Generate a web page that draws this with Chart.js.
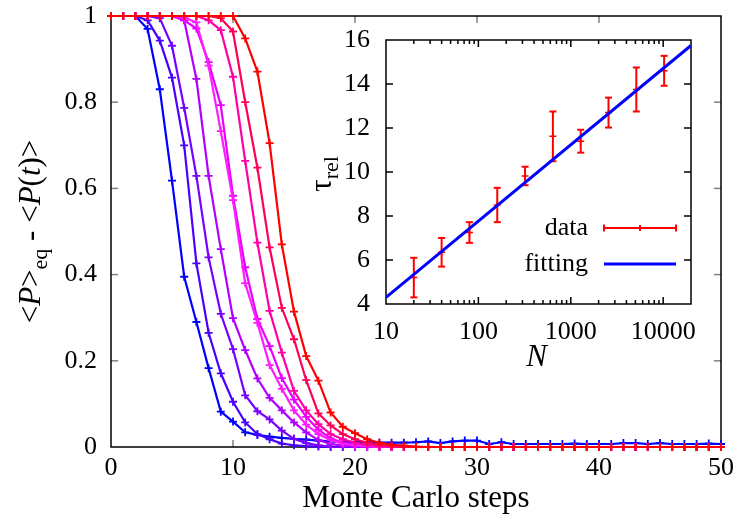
<!DOCTYPE html>
<html>
<head>
<meta charset="utf-8">
<script src="https://cdn.jsdelivr.net/npm/chart.js@4.4.0/dist/chart.umd.min.js"></script>
<style>
html, body { margin: 0; padding: 0; background: #fff; }
#wrap { position: relative; width: 737px; height: 515px; }
#wrap canvas { position: absolute; left: 0; top: 0; }
</style>
</head>
<body>
<div id="wrap">
  <canvas id="main" width="737" height="515"></canvas>
  <canvas id="inset" width="737" height="515"></canvas>
</div>
<script>
// ── Main panel data: relaxation curves vs Monte Carlo steps ─────────
const steps = [
  0, 1, 2, 3, 4, 5, 6, 7, 8, 9,
  10, 11, 12, 13, 14, 15, 16, 17, 18, 19,
  20, 21, 22, 23, 24, 25, 26, 27, 28, 29,
  30, 31, 32, 33, 34, 35, 36, 37, 38, 39,
  40, 41, 42, 43, 44, 45, 46, 47, 48, 49,
  50
];

const curve1 = [
  1, 1, 1, 0.97, 0.83, 0.618, 0.395, 0.29, 0.183, 0.082,
  0.059, 0.034, 0.028, 0.024, 0.021, 0.019, 0.017, 0.015, 0.013, 0.012,
  0.012, 0.011, 0.010, 0.010, 0.010, 0.011, 0.013, 0.009, 0.013, 0.015,
  0.015, 0.007, 0.011, 0.007, 0.007, 0.007, 0.007, 0.007, 0.008, 0.007,
  0.007, 0.007, 0.009, 0.009, 0.007, 0.009, 0.007, 0.007, 0.007, 0.008,
  0.007
];
const curve2 = [
  1, 1, 1, 0.99, 0.943, 0.857, 0.70, 0.426, 0.265, 0.171,
  0.105, 0.057, 0.03, 0.018, 0.008, 0.004, 0.002, 0.001, 0, 0,
  0, 0, 0, 0, 0, 0, 0, 0, 0, 0,
  0, 0, 0, 0, 0, 0, 0, 0, 0, 0,
  0, 0, 0, 0, 0, 0, 0, 0, 0, 0,
  0
];
const curve3 = [
  1, 1, 1, 1, 0.995, 0.931, 0.787, 0.629, 0.44, 0.309,
  0.227, 0.12, 0.083, 0.064, 0.038, 0.019, 0.009, 0.004, 0.001, 0,
  0, 0, 0, 0, 0, 0, 0, 0, 0, 0,
  0, 0, 0, 0, 0, 0, 0, 0, 0, 0,
  0, 0, 0, 0, 0, 0, 0, 0, 0, 0,
  0
];
const curve4 = [
  1, 1, 1, 1, 1, 1, 0.99, 0.854, 0.629, 0.459,
  0.299, 0.225, 0.159, 0.114, 0.085, 0.057, 0.034, 0.016, 0.007, 0.003,
  0.001, 0, 0, 0, 0, 0, 0, 0, 0, 0,
  0, 0, 0, 0, 0, 0, 0, 0, 0, 0,
  0, 0, 0, 0, 0, 0, 0, 0, 0, 0,
  0
];
const curve5 = [
  1, 1, 1, 1, 1, 1, 0.99, 0.971, 0.893, 0.793,
  0.583, 0.417, 0.297, 0.234, 0.16, 0.11, 0.07, 0.04, 0.02, 0.01,
  0.005, 0.002, 0, 0, 0, 0, 0, 0, 0, 0,
  0, 0, 0, 0, 0, 0, 0, 0, 0, 0,
  0, 0, 0, 0, 0, 0, 0, 0, 0, 0,
  0
];
const curve6 = [
  1, 1, 1, 1, 1, 1, 0.997, 0.985, 0.885, 0.733,
  0.573, 0.38, 0.288, 0.19, 0.135, 0.085, 0.052, 0.03, 0.016, 0.008,
  0.004, 0.002, 0, 0, 0, 0, 0, 0, 0, 0,
  0, 0, 0, 0, 0, 0, 0, 0, 0, 0,
  0, 0, 0, 0, 0, 0, 0, 0, 0, 0,
  0
];
const curve7 = [
  1, 1, 1, 1, 1, 1, 1, 1, 0.99, 0.967,
  0.859, 0.664, 0.474, 0.316, 0.219, 0.13, 0.085, 0.053, 0.03, 0.018,
  0.01, 0.005, 0.002, 0, 0, 0, 0, 0, 0, 0,
  0, 0, 0, 0, 0, 0, 0, 0, 0, 0,
  0, 0, 0, 0, 0, 0, 0, 0, 0, 0,
  0
];
const curve8 = [
  1, 1, 1, 1, 1, 1, 1, 1, 1, 0.995,
  0.964, 0.80, 0.648, 0.463, 0.323, 0.25, 0.155, 0.078, 0.05, 0.03,
  0.018, 0.01, 0.005, 0.002, 0, 0, 0, 0, 0, 0,
  0, 0, 0, 0, 0, 0, 0, 0, 0, 0,
  0, 0, 0, 0, 0, 0, 0, 0, 0, 0,
  0
];
const curve9 = [
  1, 1, 1, 1, 1, 1, 1, 1, 1, 1,
  1, 0.948, 0.871, 0.705, 0.47, 0.314, 0.211, 0.154, 0.08, 0.047,
  0.032, 0.018, 0.01, 0.005, 0.003, 0.001, 0, 0, 0, 0,
  0, 0, 0, 0, 0, 0, 0, 0, 0, 0,
  0, 0, 0, 0, 0, 0, 0, 0, 0, 0,
  0
];
const curves = [curve1, curve2, curve3, curve4, curve5, curve6, curve7, curve8, curve9];
const curveColors = ['#0000ff', '#4800ff', '#7800ff', '#b000ff', '#e800ff', '#ff1cff', '#ff00a8', '#ff0058', '#ff0000'];

const mainXTicks = [0, 10, 20, 30, 40, 50];
const mainYTicks = [0, 0.2, 0.4, 0.6, 0.8, 1];

// ── Inset data: relaxation time vs system size ──────────────────────
const tauN = [20, 40, 80, 160, 320, 640, 1280, 2560, 5120, 10240];
const tauVal = [5.2, 6.35, 7.25, 8.5, 9.82, 11.62, 11.4, 12.7, 13.75, 14.6];
const tauErr = [0.9, 0.65, 0.47, 0.78, 0.42, 1.13, 0.52, 0.68, 1.0, 0.68];
const fitN = [10, 20000];
const fitTau = [4.3, 15.75];

const insetXTicks = [10, 100, 1000, 10000];
const insetYTicks = [4, 6, 8, 10, 12, 14, 16];

const SERIF = "'Liberation Serif', 'Times New Roman', serif";
const TICK_FONT = '26px ' + SERIF;

// ── helpers ─────────────────────────────────────────────────────────
function seg(ctx, x0, y0, x1, y1) {
    ctx.beginPath();
    ctx.moveTo(x0, y0);
    ctx.lineTo(x1, y1);
    ctx.stroke();
}

// draws a run of text pieces (italic / subscript) centred at (cx, cy)
function richText(ctx, pieces, cx, cy, rotate) {
    ctx.save();
    ctx.translate(cx, cy);
    if (rotate) ctx.rotate(-Math.PI / 2);
    ctx.fillStyle = '#000';
    ctx.textBaseline = 'alphabetic';
    ctx.textAlign = 'left';
    let total = 0;
    pieces.forEach(p => { ctx.font = p.font; p.w = ctx.measureText(p.text).width; total += p.w; });
    let x = -total / 2;
    pieces.forEach(p => {
        ctx.font = p.font;
        ctx.fillText(p.text, x, p.dy || 0);
        x += p.w;
    });
    ctx.restore();
}

function inwardTicks(ctx, a, xs, ys, xVals, yVals, len) {
    xVals.forEach(v => {
        if (v <= xs.min || v >= xs.max) return;
        const px = xs.getPixelForValue(v);
        seg(ctx, px, a.bottom, px, a.bottom - len);
        seg(ctx, px, a.top, px, a.top + len);
    });
    yVals.forEach(v => {
        if (v <= ys.min || v >= ys.max) return;
        const py = ys.getPixelForValue(v);
        seg(ctx, a.left, py, a.left + len, py);
        seg(ctx, a.right, py, a.right - len, py);
    });
}

// tick labels placed from the scale's own ticks
function tickLabels(ctx, a, xs, ys, xGap, yGap) {
    ctx.save();
    ctx.font = TICK_FONT;
    ctx.fillStyle = '#000';
    ctx.textBaseline = 'middle';
    ctx.textAlign = 'center';
    xs.ticks.forEach(t => ctx.fillText(String(t.value), xs.getPixelForValue(t.value), a.bottom + xGap));
    ctx.textAlign = 'right';
    ys.ticks.forEach(t => ctx.fillText(String(t.value), a.left - yGap, ys.getPixelForValue(t.value)));
    ctx.restore();
}

// keep the plot box exactly where the layout padding puts it
function noOverflow(s) {
    s.paddingTop = 0;
    s.paddingBottom = 0;
    s.paddingLeft = 0;
    s.paddingRight = 0;
}

// ── Main chart ──────────────────────────────────────────────────────
const mainFrame = {
    id: 'mainFrame',
    beforeDatasetsDraw(chart) {
        const { ctx, chartArea: a, scales: { x, y } } = chart;
        ctx.save();
        ctx.strokeStyle = '#808080';
        ctx.lineWidth = 1.5;
        inwardTicks(ctx, a, x, y, mainXTicks, mainYTicks, 7);
        ctx.strokeStyle = '#000';
        ctx.lineWidth = 1.5;
        ctx.strokeRect(a.left, a.top, a.width, a.height);
        ctx.restore();
        tickLabels(ctx, a, x, y, 21, 14);
    },
    afterDraw(chart) {
        const { ctx, chartArea: a } = chart;
        const big = '31px ' + SERIF, bigIt = 'italic 31px ' + SERIF, sub = '22px ' + SERIF;
        richText(ctx, [{ text: 'Monte Carlo steps', font: big }], (a.left + a.right) / 2, 507, false);
        richText(ctx, [
            { text: '<', font: big }, { text: 'P', font: bigIt }, { text: '>', font: big },
            { text: 'eq', font: sub, dy: 7 },
            { text: ' - <', font: big }, { text: 'P', font: bigIt }, { text: '(', font: big },
            { text: 't', font: bigIt }, { text: ')>', font: big }
        ], 40, (a.top + a.bottom) / 2, true);
    }
};

new Chart(document.getElementById('main'), {
    type: 'line',
    data: {
        datasets: curves.map((c, i) => ({
            data: steps.map((s, j) => ({ x: s, y: c[j] })),
            borderColor: curveColors[i],
            backgroundColor: curveColors[i],
            borderWidth: 2.2,
            pointStyle: 'cross',
            pointRadius: 4,
            pointBorderWidth: 1.8,
            tension: 0,
            clip: false,
            order: curves.length - 1 - i,
        }))
    },
    options: {
        responsive: false,
        animation: false,
        devicePixelRatio: 1,
        layout: { padding: { left: 0, right: 16, top: 16, bottom: 0 } },
        plugins: { legend: { display: false }, tooltip: { enabled: false } },
        scales: {
            x: {
                type: 'linear', min: 0, max: 50,
                grid: { display: false, drawTicks: false },
                border: { display: false },
                afterBuildTicks: s => { s.ticks = mainXTicks.map(v => ({ value: v })); },
                afterFit: s => { s.height = 68; noOverflow(s); },
                ticks: { display: false }
            },
            y: {
                type: 'linear', min: 0, max: 1,
                grid: { display: false, drawTicks: false },
                border: { display: false },
                afterBuildTicks: s => { s.ticks = mainYTicks.map(v => ({ value: v })); },
                afterFit: s => { s.width = 111; noOverflow(s); },
                ticks: { display: false }
            }
        }
    },
    plugins: [mainFrame]
});

// ── Inset chart ─────────────────────────────────────────────────────
const insetFrame = {
    id: 'insetFrame',
    beforeDatasetsDraw(chart) {
        const { ctx, chartArea: a, scales: { x, y } } = chart;
        ctx.save();
        ctx.strokeStyle = '#000';
        ctx.lineWidth = 1.5;
        inwardTicks(ctx, a, x, y, insetXTicks, insetYTicks, 7);
        // minor log ticks
        const minor = [];
        insetXTicks.forEach(d => { [2, 3, 4, 5, 6, 7, 8, 9].forEach(m => minor.push(d * m)); });
        inwardTicks(ctx, a, x, y, minor, [], 4);
        ctx.strokeRect(a.left, a.top, a.width, a.height);

        // error bars
        ctx.strokeStyle = '#ff0000';
        ctx.lineWidth = 2;
        tauN.forEach((n, i) => {
            const px = x.getPixelForValue(n);
            const top = y.getPixelForValue(tauVal[i] + tauErr[i]);
            const bot = y.getPixelForValue(tauVal[i] - tauErr[i]);
            seg(ctx, px, top, px, bot);
            seg(ctx, px - 3.5, top, px + 3.5, top);
            seg(ctx, px - 3.5, bot, px + 3.5, bot);
        });
        ctx.restore();
        tickLabels(ctx, a, x, y, 28, 16);
    },
    afterDraw(chart) {
        const { ctx, chartArea: a } = chart;
        const big = '31px ' + SERIF, bigIt = 'italic 31px ' + SERIF, sub = '22px ' + SERIF;
        // legend
        ctx.save();
        ctx.font = '26px ' + SERIF;
        ctx.fillStyle = '#000';
        ctx.textAlign = 'right';
        ctx.textBaseline = 'middle';
        const tx = a.right - 103, x0 = a.right - 87, x1 = a.right - 15;
        const r1 = a.top + 188, r2 = a.top + 224;
        ctx.fillText('data', tx, r1);
        ctx.fillText('fitting', tx, r2);
        ctx.strokeStyle = '#ff0000';
        ctx.lineWidth = 2;
        seg(ctx, x0, r1, x1, r1);
        seg(ctx, x0, r1 - 3.5, x0, r1 + 3.5);
        seg(ctx, x1, r1 - 3.5, x1, r1 + 3.5);
        seg(ctx, (x0 + x1) / 2, r1 - 3, (x0 + x1) / 2, r1 + 3);
        ctx.strokeStyle = '#0000ff';
        ctx.lineWidth = 3;
        seg(ctx, x0, r2, x1, r2);
        ctx.restore();
        // axis titles
        richText(ctx, [{ text: 'N', font: bigIt }], (a.left + a.right) / 2 - 2, 366, false);
        richText(ctx, [{ text: 'τ', font: big }, { text: 'rel', font: sub, dy: 7 }], 331, (a.top + a.bottom) / 2 + 2, true);
    }
};

new Chart(document.getElementById('inset'), {
    type: 'line',
    data: {
        datasets: [
            {
                data: fitN.map((n, i) => ({ x: n, y: fitTau[i] })),
                borderColor: '#0000ff',
                borderWidth: 3,
                pointRadius: 0,
                order: 0,
            },
            {
                data: tauN.map((n, i) => ({ x: n, y: tauVal[i] })),
                showLine: false,
                borderColor: '#ff0000',
                backgroundColor: '#ff0000',
                pointStyle: 'cross',
                pointRadius: 3.5,
                pointBorderWidth: 1.5,
                order: 1,
            }
        ]
    },
    options: {
        responsive: false,
        animation: false,
        devicePixelRatio: 1,
        layout: { padding: { left: 296, right: 46, top: 40, bottom: 147 } },
        plugins: { legend: { display: false }, tooltip: { enabled: false } },
        scales: {
            x: {
                type: 'logarithmic', min: 10, max: 20000,
                grid: { display: false, drawTicks: false },
                border: { display: false },
                afterBuildTicks: s => { s.ticks = insetXTicks.map(v => ({ value: v })); },
                afterFit: s => { s.height = 64; noOverflow(s); },
                ticks: { display: false }
            },
            y: {
                type: 'linear', min: 4, max: 16,
                grid: { display: false, drawTicks: false },
                border: { display: false },
                afterBuildTicks: s => { s.ticks = insetYTicks.map(v => ({ value: v })); },
                afterFit: s => { s.width = 90; noOverflow(s); },
                ticks: { display: false }
            }
        }
    },
    plugins: [insetFrame]
});
</script>
</body>
</html>
